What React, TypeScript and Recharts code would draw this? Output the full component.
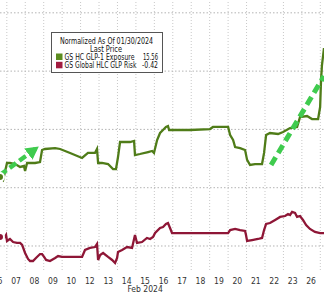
import { LineChart, Line, XAxis, YAxis, ReferenceLine } from "recharts"

// day labels on the axis, position index = trading day slot
const dayLabels = ["06", "07", "08", "09", "10", "12", "13", "14", "15", "16", "17", "18", "19", "20", "21", "22", "23", "26"]
const dayIdx = dayLabels.map((_, i) => i)
const gridX = dayLabels.map((_, i) => i + 0.5)
const gridY = [-1.5, 3.5, 8.5, 13.5, 18.5]

// GS HC GLP-1 Exposure (x = day slot, y = normalized %)
const greenT = [0.13, 0.3, 0.51, 0.67, 0.95, 1.22, 1.43, 1.49, 1.6, 2.03, 2.3, 2.41, 2.57, 3.12, 3.39, 3.93, 4.58, 4.9, 5.28, 5.39, 5.45, 5.66, 5.99, 6.26, 6.42, 6.53, 6.64, 7.18, 7.4, 7.45, 7.72, 8.16, 8.38, 8.48, 8.65, 8.81, 8.97, 9.13, 9.24, 9.3, 10.44, 11.52, 11.68, 12.5, 12.61, 12.77, 12.88, 13.15, 13.42, 13.53, 13.69, 13.96, 14.34, 14.45, 14.56, 14.77, 15.21, 15.48, 15.86, 16.24, 16.4, 16.78, 17.05, 17.38, 17.49, 17.54, 17.59, 17.7]
const greenV = [4.42, 4.16, 5.62, 5.62, 5.53, 5.28, 5.36, 4.93, 5.62, 5.62, 5.7, 6.73, 6.82, 6.9, 6.82, 6.48, 6.05, 6.48, 6.48, 6.82, 5.62, 5.62, 5.53, 5.1, 5.1, 6.13, 7.42, 7.42, 7.51, 6.3, 6.39, 6.56, 6.65, 6.48, 7.59, 8.19, 8.45, 8.71, 8.79, 8.45, 8.45, 8.53, 8.71, 8.71, 8.02, 7.59, 6.99, 6.9, 6.73, 5.88, 5.45, 5.53, 5.53, 6.48, 8.02, 8.19, 8.11, 8.28, 8.62, 8.71, 9.56, 9.65, 9.39, 9.39, 10.42, 12.74, 14.02, 15.48]

// GS Global HLC GLP Risk
const redT = [0.13, 0.4, 0.46, 0.51, 0.67, 0.84, 1.05, 1.22, 1.33, 1.49, 1.65, 1.76, 1.92, 2.08, 2.3, 2.41, 2.52, 2.63, 2.84, 3.12, 3.28, 3.49, 4.58, 4.74, 5.01, 5.28, 5.39, 5.45, 5.56, 5.72, 5.99, 6.21, 6.37, 6.48, 6.53, 6.75, 7.02, 7.29, 7.45, 7.56, 7.83, 8.1, 8.27, 8.43, 8.54, 8.81, 8.97, 9.13, 9.24, 9.35, 9.46, 12.5, 12.61, 12.88, 13.15, 13.42, 13.47, 13.53, 13.8, 14.12, 14.34, 14.45, 14.56, 14.77, 15.05, 15.32, 15.59, 15.75, 15.86, 15.97, 16.13, 16.24, 16.4, 16.56, 16.73, 16.94, 17.21, 17.49, 17.7]
const redV = [-0.73, -0.73, -0.56, -1.07, -0.9, -1.16, -1.24, -1.24, -1.41, -2.1, -2.61, -2.79, -2.79, -2.53, -2.19, -2.19, -2.44, -2.7, -2.79, -2.53, -2.36, -2.44, -2.44, -1.84, -1.67, -1.59, -1.33, -2.7, -2.27, -2.1, -2.44, -2.7, -2.96, -2.53, -2.01, -1.84, -1.59, -1.67, -0.56, -1.24, -1.16, -0.81, -0.9, -0.73, -0.39, 0.04, 0.13, 0.39, 0.47, 0.04, -0.39, -0.39, -0.13, -0.04, -0.13, -0.21, -0.56, -1.07, -0.99, -0.9, -0.81, -0.13, 0.39, 0.47, 0.73, 0.99, 1.07, 1.24, 1.16, 1.42, 1.33, 0.99, 1.07, 0.73, 0.3, -0.04, -0.3, -0.39, -0.39]

// annotation arrows [x1, y1, x2, y2]
const arrowA = [0.13, 4.59, 2.19, 6.99]
const arrowB = [14.83, 5.45, 17.7, 13.08]

const seriesNames = ["GS HC GLP-1 Exposure", "GS Global HLC GLP Risk"]
const seriesLast = ["15.56", "-0.42"]
const seriesColors = ["#4f7c18", "#8e1636"]
const legendSwatch = ["#5c8c20", "#a21c40"]

const greenData = greenT.map((t, i) => ({ t, v: greenV[i] }))
const redData = redT.map((t, i) => ({ t, v: redV[i] }))

const tickFont = "'Liberation Sans Narrow', 'DejaVu Sans Condensed', 'Liberation Sans', sans-serif"

function DayTick(props: any) {
  const { x, y, payload } = props
  const label = dayLabels[payload.value]
  return (
    <g>
      <text x={x} y={y + 14} textAnchor="middle" fontSize={8.5} fill="#333" fontFamily={tickFont}>
        {label}
      </text>
      {label === "15" && (
        <text x={x} y={y + 21.5} textAnchor="middle" fontSize={8.5} fill="#333" fontFamily={tickFont}>
          Feb 2024
        </text>
      )}
    </g>
  )
}

function LegendBox() {
  const fs = 8
  return (
    <svg width={324} height={292} style={{ position: "absolute", left: 0, top: 0, pointerEvents: "none" }}>
      <rect x={51.5} y={32.5} width={111} height={40} fill="#fff" stroke="#555" strokeWidth={1} />
      <text x={60} y={43.5} fontSize={fs} fill="#111" fontFamily={tickFont} textLength={93} lengthAdjust="spacingAndGlyphs">
        Normalized As Of 01/30/2024
      </text>
      <text x={90} y={51.5} fontSize={fs} fill="#111" fontFamily={tickFont} textLength={32} lengthAdjust="spacingAndGlyphs">
        Last Price
      </text>
      {seriesNames.map((name, i) => (
        <g key={name}>
          <rect x={56} y={53.5 + i * 8.3} width={6.5} height={6.5} fill={legendSwatch[i]} />
          <text x={64.5} y={60 + i * 8.3} fontSize={fs} fill="#111" fontFamily={tickFont} textLength={i === 0 ? 70 : 72} lengthAdjust="spacingAndGlyphs">
            {name}
          </text>
          <text x={i === 0 ? 143 : 142} y={60 + i * 8.3} fontSize={fs} fill="#111" fontFamily={tickFont} textLength={i === 0 ? 15 : 16} lengthAdjust="spacingAndGlyphs">
            {seriesLast[i]}
          </text>
        </g>
      ))}
    </svg>
  )
}

export default function App() {
  return (
    <div style={{ position: "relative", width: 324, height: 292, background: "#fff", overflow: "hidden" }}>
      <style>{"body{margin:0}"}</style>
      <LineChart width={324} height={292} margin={{ top: 0, right: 0, left: 0, bottom: 0 }}>
        <defs>
          <marker id="arrowHead" markerUnits="userSpaceOnUse" markerWidth={14} markerHeight={14} refX={12} refY={7} orient="auto">
            <path d="M0,0 L13,7 L0,14 Z" fill="#3fcb4e" />
          </marker>
        </defs>
        <XAxis
          dataKey="t"
          type="number"
          domain={[0.13, 17.7]}
          allowDataOverflow
          ticks={dayIdx}
          interval={0}
          axisLine={false}
          tickLine={false}
          tickSize={0}
          tickMargin={0}
          height={22}
          tick={<DayTick />}
        />
        <YAxis type="number" domain={[-3.56, 19.6]} allowDataOverflow hide />
        {gridX.map((g) => (
          <ReferenceLine key={"gx" + g} x={g} stroke="#c8c8c8" strokeDasharray="1 2" ifOverflow="hidden" />
        ))}
        {gridY.map((g) => (
          <ReferenceLine key={"gy" + g} y={g} stroke="#b4b4b4" strokeDasharray="1.5 2" />
        ))}
        <Line data={redData} dataKey="v" stroke={seriesColors[1]} strokeWidth={2.3} dot={false} isAnimationActive={false} />
        <Line data={greenData} dataKey="v" stroke={seriesColors[0]} strokeWidth={2.3} dot={false} isAnimationActive={false} />
        <ReferenceLine
          segment={[{ x: arrowA[0], y: arrowA[1] }, { x: arrowA[2], y: arrowA[3] }]}
          stroke="#3fcb4e"
          strokeWidth={4.5}
          strokeDasharray="8 4"
          markerEnd="url(#arrowHead)"
          ifOverflow="visible"
        />
        <ReferenceLine
          segment={[{ x: arrowB[0], y: arrowB[1] }, { x: arrowB[2], y: arrowB[3] }]}
          stroke="#3fcb4e"
          strokeWidth={5}
          strokeDasharray="9 5"
          ifOverflow="hidden"
        />
      </LineChart>
      <LegendBox />
    </div>
  )
}
